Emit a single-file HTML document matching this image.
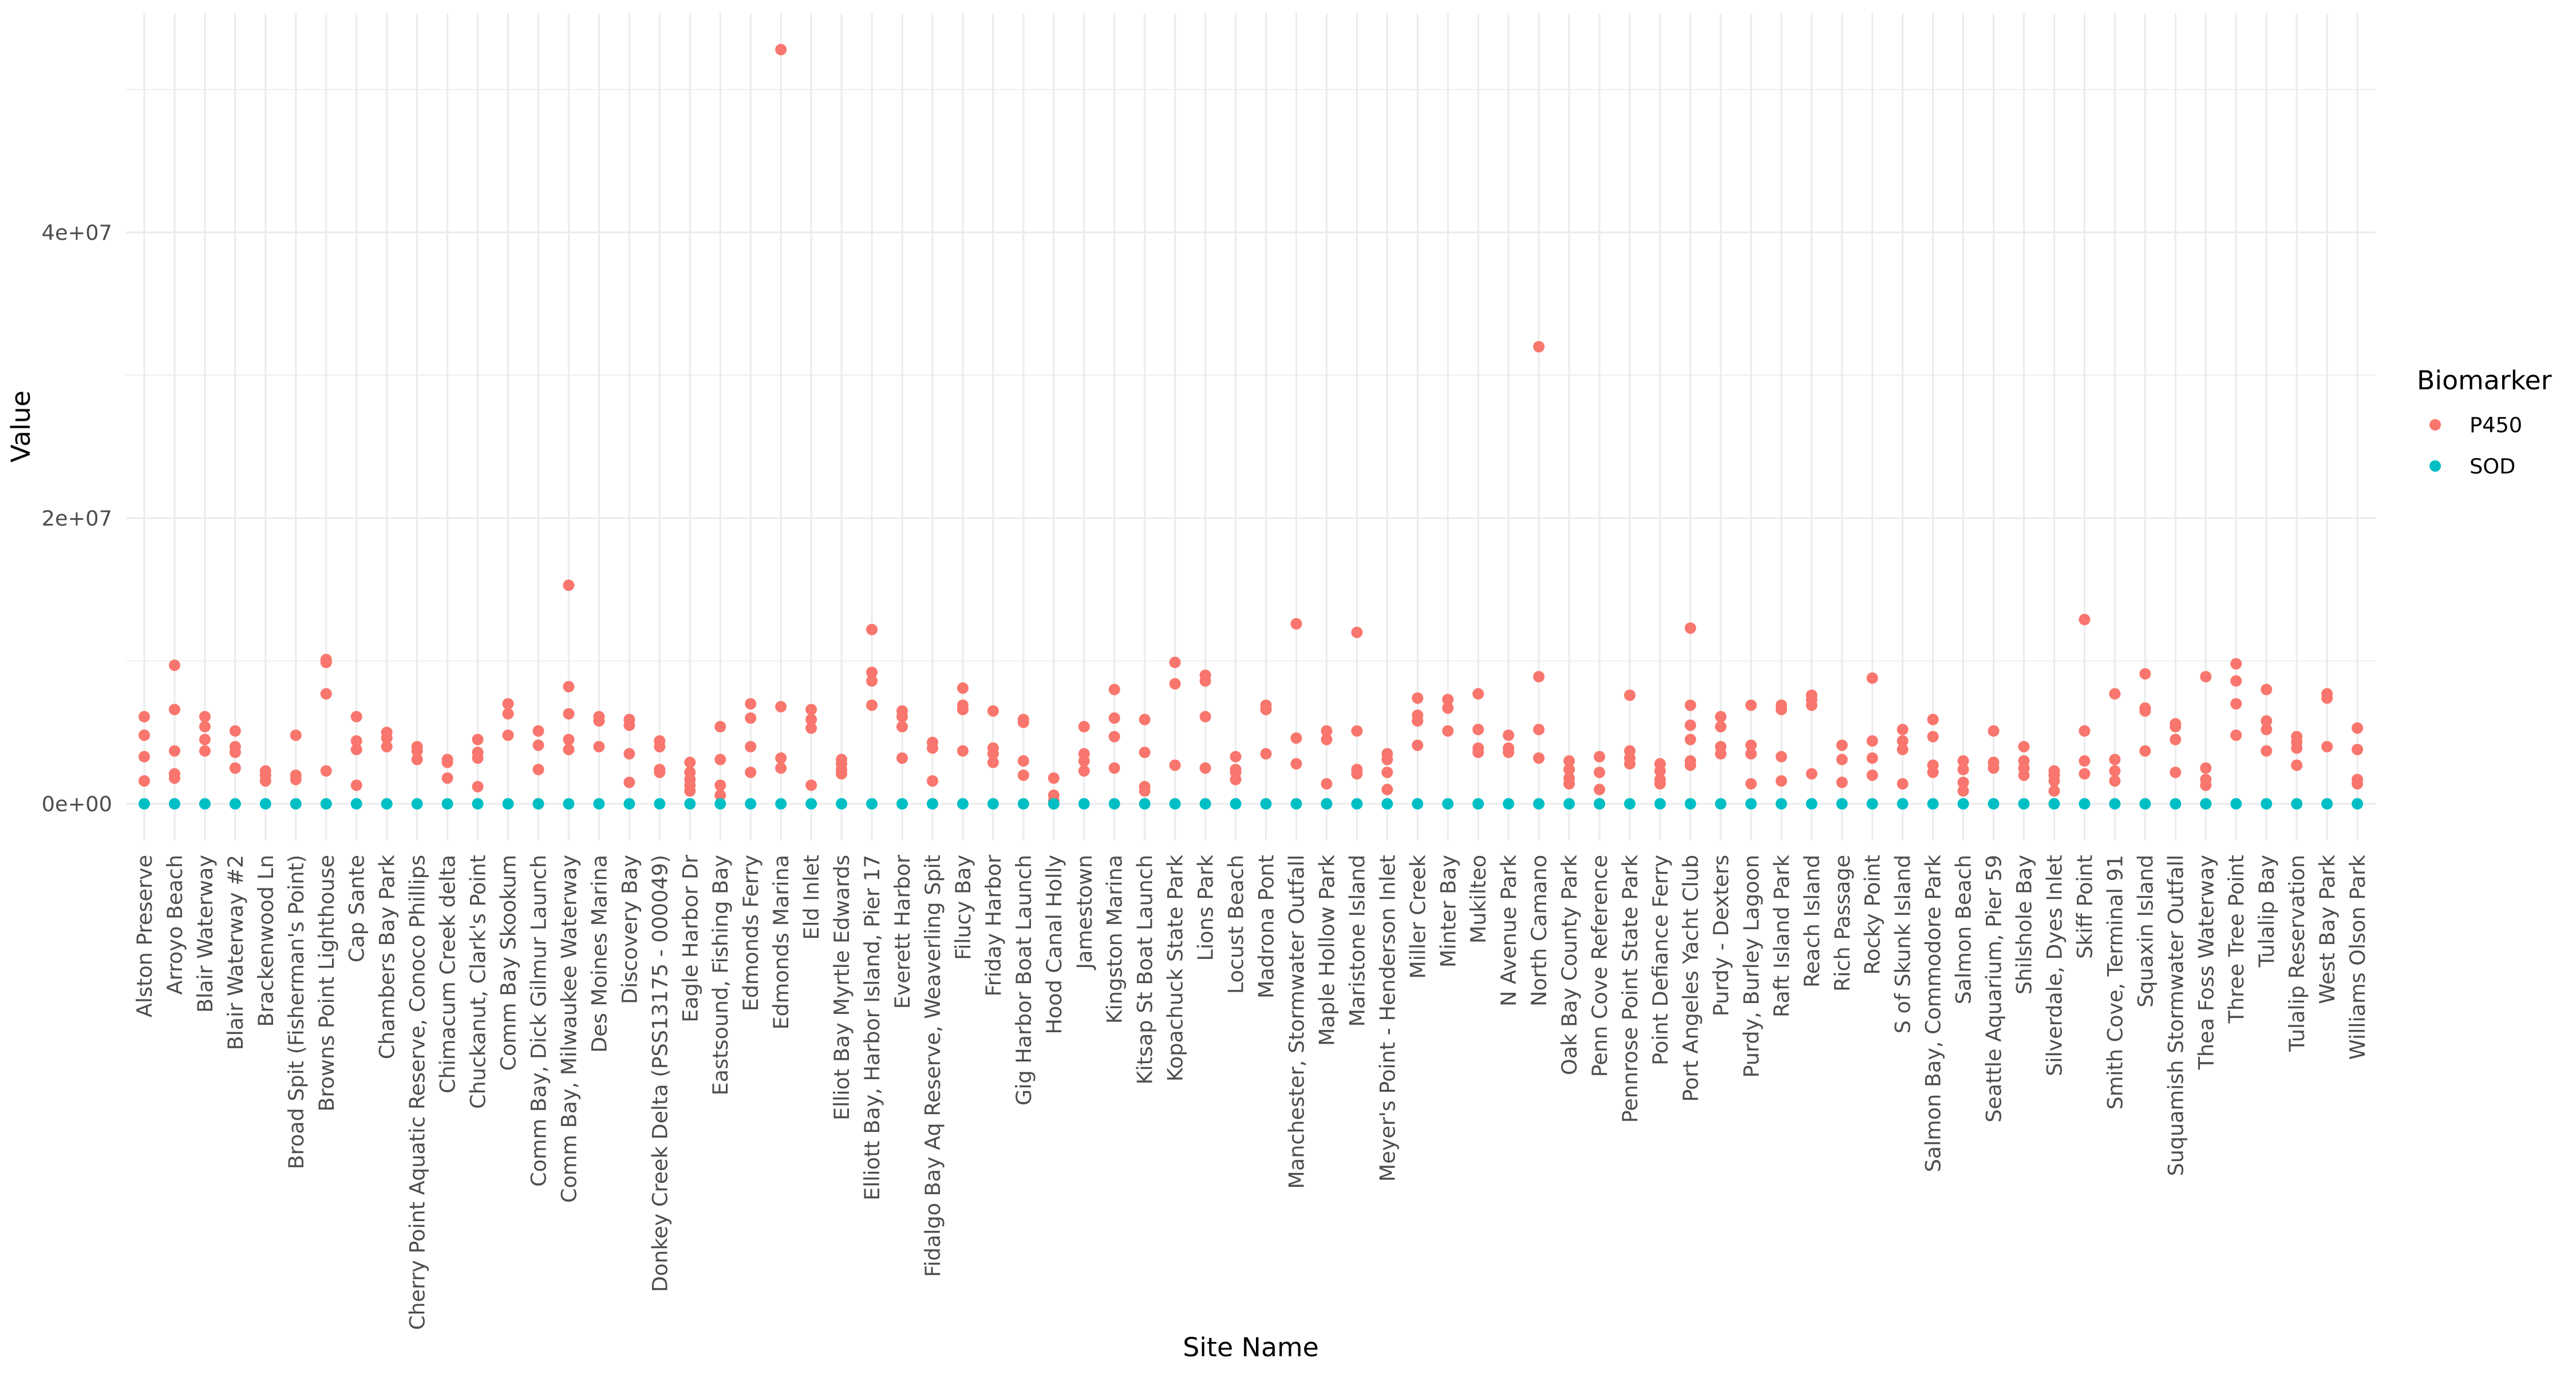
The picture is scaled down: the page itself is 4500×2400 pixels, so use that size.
<!DOCTYPE html>
<html><head><meta charset="utf-8"><style>
html,body{margin:0;padding:0;background:#fff;}
svg{display:block;font-family:"DejaVu Sans","Liberation Sans",sans-serif;}
</style></head><body>
<svg id="s" width="4500" height="2400" viewBox="0 0 4500 2400" xmlns="http://www.w3.org/2000/svg">
<rect width="4500" height="2400" fill="#fff"/>
<g id="grid"></g>
<g id="pts"></g>
<g font-size="36.7" fill="#4D4D4D" text-anchor="end">
<text x="196" y="1417">0e+00</text>
<text x="196" y="918">2e+07</text>
<text x="196" y="419">4e+07</text>
</g>
<text x="52" y="745" font-size="45.8" fill="#000" text-anchor="middle" transform="rotate(-90 52 745)">Value</text>
<text x="2185" y="2369" font-size="45.8" fill="#000" text-anchor="middle">Site Name</text>
<text x="4222" y="680" font-size="45.8" fill="#000">Biomarker</text>
<circle cx="4254" cy="742" r="10" fill="#F8766D"/>
<circle cx="4254" cy="814" r="10" fill="#00BFC4"/>
<text x="4314" y="755" font-size="36.7" fill="#000">P450</text>
<text x="4314" y="827" font-size="36.7" fill="#000">SOD</text>
<g id="xl" font-size="36.5" fill="#4D4D4D" text-anchor="end">
<text>Alston Preserve</text><text>Arroyo Beach</text><text>Blair Waterway</text><text>Blair Waterway #2</text><text>Brackenwood Ln</text><text>Broad Spit (Fisherman's Point)</text><text>Browns Point Lighthouse</text><text>Cap Sante</text><text>Chambers Bay Park</text><text>Cherry Point Aquatic Reserve, Conoco Phillips</text><text>Chimacum Creek delta</text><text>Chuckanut, Clark's Point</text><text>Comm Bay Skookum</text><text>Comm Bay, Dick Gilmur Launch</text><text>Comm Bay, Milwaukee Waterway</text><text>Des Moines Marina</text><text>Discovery Bay</text><text>Donkey Creek Delta (PSS13175 - 000049)</text><text>Eagle Harbor Dr</text><text>Eastsound, Fishing Bay</text><text>Edmonds Ferry</text><text>Edmonds Marina</text><text>Eld Inlet</text><text>Elliot Bay Myrtle Edwards</text><text>Elliott Bay, Harbor Island, Pier 17</text><text>Everett Harbor</text><text>Fidalgo Bay Aq Reserve, Weaverling Spit</text><text>Filucy Bay</text><text>Friday Harbor</text><text>Gig Harbor Boat Launch</text><text>Hood Canal Holly</text><text>Jamestown</text><text>Kingston Marina</text><text>Kitsap St Boat Launch</text><text>Kopachuck State Park</text><text>Lions Park</text><text>Locust Beach</text><text>Madrona Pont</text><text>Manchester, Stormwater Outfall</text><text>Maple Hollow Park</text><text>Maristone Island</text><text>Meyer's Point - Henderson Inlet</text><text>Miller Creek</text><text>Minter Bay</text><text>Mukilteo</text><text>N Avenue Park</text><text>North Camano</text><text>Oak Bay County Park</text><text>Penn Cove Reference</text><text>Pennrose Point State Park</text><text>Point Defiance Ferry</text><text>Port Angeles Yacht Club</text><text>Purdy - Dexters</text><text>Purdy, Burley Lagoon</text><text>Raft Island Park</text><text>Reach Island</text><text>Rich Passage</text><text>Rocky Point</text><text>S of Skunk Island</text><text>Salmon Bay, Commodore Park</text><text>Salmon Beach</text><text>Seattle Aquarium, Pier 59</text><text>Shilshole Bay</text><text>Silverdale, Dyes Inlet</text><text>Skiff Point</text><text>Smith Cove, Terminal 91</text><text>Squaxin Island</text><text>Suquamish Stormwater Outfall</text><text>Thea Foss Waterway</text><text>Three Tree Point</text><text>Tulalip Bay</text><text>Tulalip Reservation</text><text>West Bay Park</text><text>Williams Olson Park</text>
</g>
</svg>
<script>
var NS="http://www.w3.org/2000/svg";
function X(i){return 252+52.96*i;}
function Y(v){return 1404-v*24.95;}
function el(p,t,a){var e=document.createElementNS(NS,t);for(var k in a)e.setAttribute(k,a[k]);p.appendChild(e);return e;}
var g=document.getElementById("grid");
[10,30,50].forEach(function(v){el(g,"line",{x1:220,x2:4150,y1:Y(v),y2:Y(v),stroke:"#EBEBEB","stroke-width":1.5});});
[0,20,40].forEach(function(v){el(g,"line",{x1:220,x2:4150,y1:Y(v),y2:Y(v),stroke:"#EBEBEB","stroke-width":3});});
for(var i=0;i<74;i++)el(g,"line",{x1:X(i),x2:X(i),y1:23,y2:1468,stroke:"#EBEBEB","stroke-width":3});
var D=[[6.1,4.8,3.3,1.6],[9.7,6.6,3.7,2.1,1.8],[6.1,5.4,4.5,3.7],[5.1,4.0,3.6,2.5],[2.3,2.0,1.6],[4.8,2.0,1.7],[10.1,9.9,7.7,2.3],[6.1,4.4,3.8,1.3],[5.0,4.6,4.0],[4.0,3.7,3.1],[3.1,2.9,1.8],[4.5,3.6,3.2,1.2],[7.0,6.3,4.8,0],[5.1,4.1,2.4,0],[15.3,8.2,6.3,4.5,3.8],[6.1,5.8,4.0],[5.9,5.5,3.5,1.5],[4.4,4.0,2.4,2.2],[2.9,2.2,1.7,1.3,0.9],[5.4,3.1,1.3,0.6],[7.0,6.0,4.0,2.2],[52.8,6.8,3.2,2.5],[6.6,5.9,5.3,1.3],[3.1,2.8,2.4,2.1],[12.2,9.2,8.6,6.9],[6.5,6.1,5.4,3.2],[4.3,3.9,1.6,0],[8.1,6.9,6.6,3.7],[6.5,3.9,3.5,2.9],[5.9,5.7,3.0,2.0],[1.8,0.6,0.2,0],[5.4,3.5,3.0,2.3],[8.0,6.0,4.7,2.5],[5.9,3.6,1.2,0.9],[9.9,8.4,2.7],[9.0,8.6,6.1,2.5],[3.3,2.4,2.2,1.7],[6.9,6.6,3.5],[12.6,4.6,2.8],[5.1,4.5,1.4,0],[12.0,5.1,2.4,2.1],[3.5,3.1,2.2,1.0],[7.4,6.2,5.8,4.1],[7.3,6.7,5.1],[7.7,5.2,3.9,3.6],[4.8,3.9,3.6],[32.0,8.9,5.2,3.2],[3.0,2.4,1.8,1.4],[3.3,2.2,1.0,0],[7.6,3.7,3.2,2.8],[2.8,2.3,1.7,1.4],[12.3,6.9,5.5,4.5,3.0,2.7],[6.1,5.4,4.0,3.5],[6.9,4.1,3.5,1.4],[6.9,6.6,3.3,1.6],[7.6,7.3,6.9,2.1],[4.1,3.1,1.5],[8.8,4.4,3.2,2.0],[5.2,4.4,3.8,1.4],[5.9,4.7,2.7,2.2],[3.0,2.4,1.5,0.9],[5.1,2.9,2.5],[4.0,3.0,2.5,2.0],[2.3,2.0,1.6,0.9],[12.9,5.1,3.0,2.1],[7.7,3.1,2.3,1.6],[9.1,6.7,6.5,3.7],[5.6,5.4,4.5,2.2],[8.9,2.5,1.7,1.3,0],[9.8,8.6,7.0,4.8],[8.0,5.8,5.2,3.7],[4.7,4.3,3.9,2.7],[7.7,7.4,4.0],[5.3,3.8,1.7,1.4]];
var p=document.getElementById("pts");
D.forEach(function(a,i){a.forEach(function(v){el(p,"circle",{cx:X(i),cy:Y(v),r:10,fill:"#F8766D"});});});
D.forEach(function(a,i){el(p,"circle",{cx:X(i),cy:Y(0),r:10,fill:"#00BFC4"});});
var t=document.getElementById("xl").children;
for(var i=0;i<t.length;i++){var x=X(i)+13,y=1493;t[i].setAttribute("x",x);t[i].setAttribute("y",y);t[i].setAttribute("transform","rotate(-90 "+x+" "+y+")");}
</script>
</body></html>
